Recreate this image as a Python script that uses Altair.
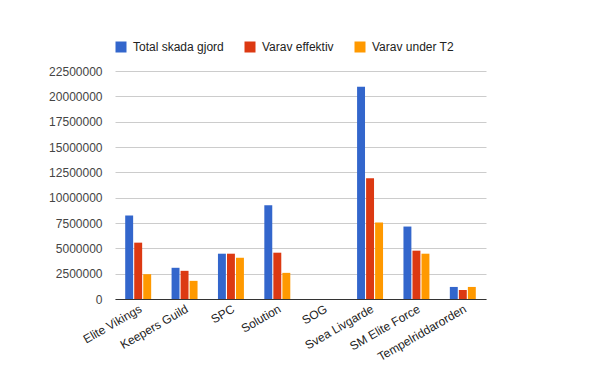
import altair as alt
import pandas as pd

teams = ["Elite Vikings", "Keepers Guild", "SPC", "Solution", "SOG",
         "Svea Livgarde", "SM Elite Force", "Tempelriddarorden"]
series = ["Total skada gjord", "Varav effektiv", "Varav under T2"]
total = [8240000, 3080000, 4470000, 9240000, 0, 20950000, 7150000, 1190000]
effektiv = [5560000, 2780000, 4470000, 4570000, 0, 11920000, 4770000, 890000]
under_t2 = [2450000, 1790000, 4070000, 2580000, 0, 7550000, 4470000, 1190000]
colors = ["#3366CC", "#DC3912", "#FF9900"]
y_ticks = [0, 2500000, 5000000, 7500000, 10000000, 12500000, 15000000,
           17500000, 20000000, 22500000]

rows = []
for i, t in enumerate(teams):
    for s, vals in zip(series, [total, effektiv, under_t2]):
        rows.append({"team": t, "series": s, "value": vals[i]})
df = pd.DataFrame(rows)

font = "Liberation Sans"

chart = alt.Chart(df).mark_bar().encode(
    x=alt.X("team:N", sort=teams,
            scale=alt.Scale(paddingInner=0.44, paddingOuter=0.22),
            axis=alt.Axis(title=None, labelAngle=-30, ticks=False, grid=False,
                          domainColor="#333333", labelFont=font, labelFontSize=12,
                          labelColor="#222222", labelPadding=4, labelLimit=200)),
    xOffset=alt.XOffset("series:N", sort=series,
                        scale=alt.Scale(paddingInner=0.12)),
    y=alt.Y("value:Q",
            scale=alt.Scale(domain=[0, 22500000], nice=False),
            axis=alt.Axis(title=None, values=y_ticks, format="d", domain=False,
                          ticks=False, gridColor="#cccccc", labelFont=font,
                          labelFontSize=12, labelColor="#444444", labelPadding=13)),
    color=alt.Color("series:N", sort=series,
                    scale=alt.Scale(domain=series, range=colors),
                    legend=alt.Legend(title=None, orient="none", legendX=0, legendY=-30,
                                      direction="horizontal", symbolType="square",
                                      symbolSize=121, symbolStrokeWidth=0,
                                      labelFont=font, labelFontSize=12,
                                      labelColor="#222222", columnPadding=20,
                                      labelOffset=6)),
).properties(
    width=371, height=228,
    autosize=alt.AutoSizeParams(type="none"),
    padding={"left": 107, "top": 63, "right": 106, "bottom": 64},
).configure_view(stroke=None)

chart.save("out.html", embed_options={"renderer": "svg", "actions": False})
